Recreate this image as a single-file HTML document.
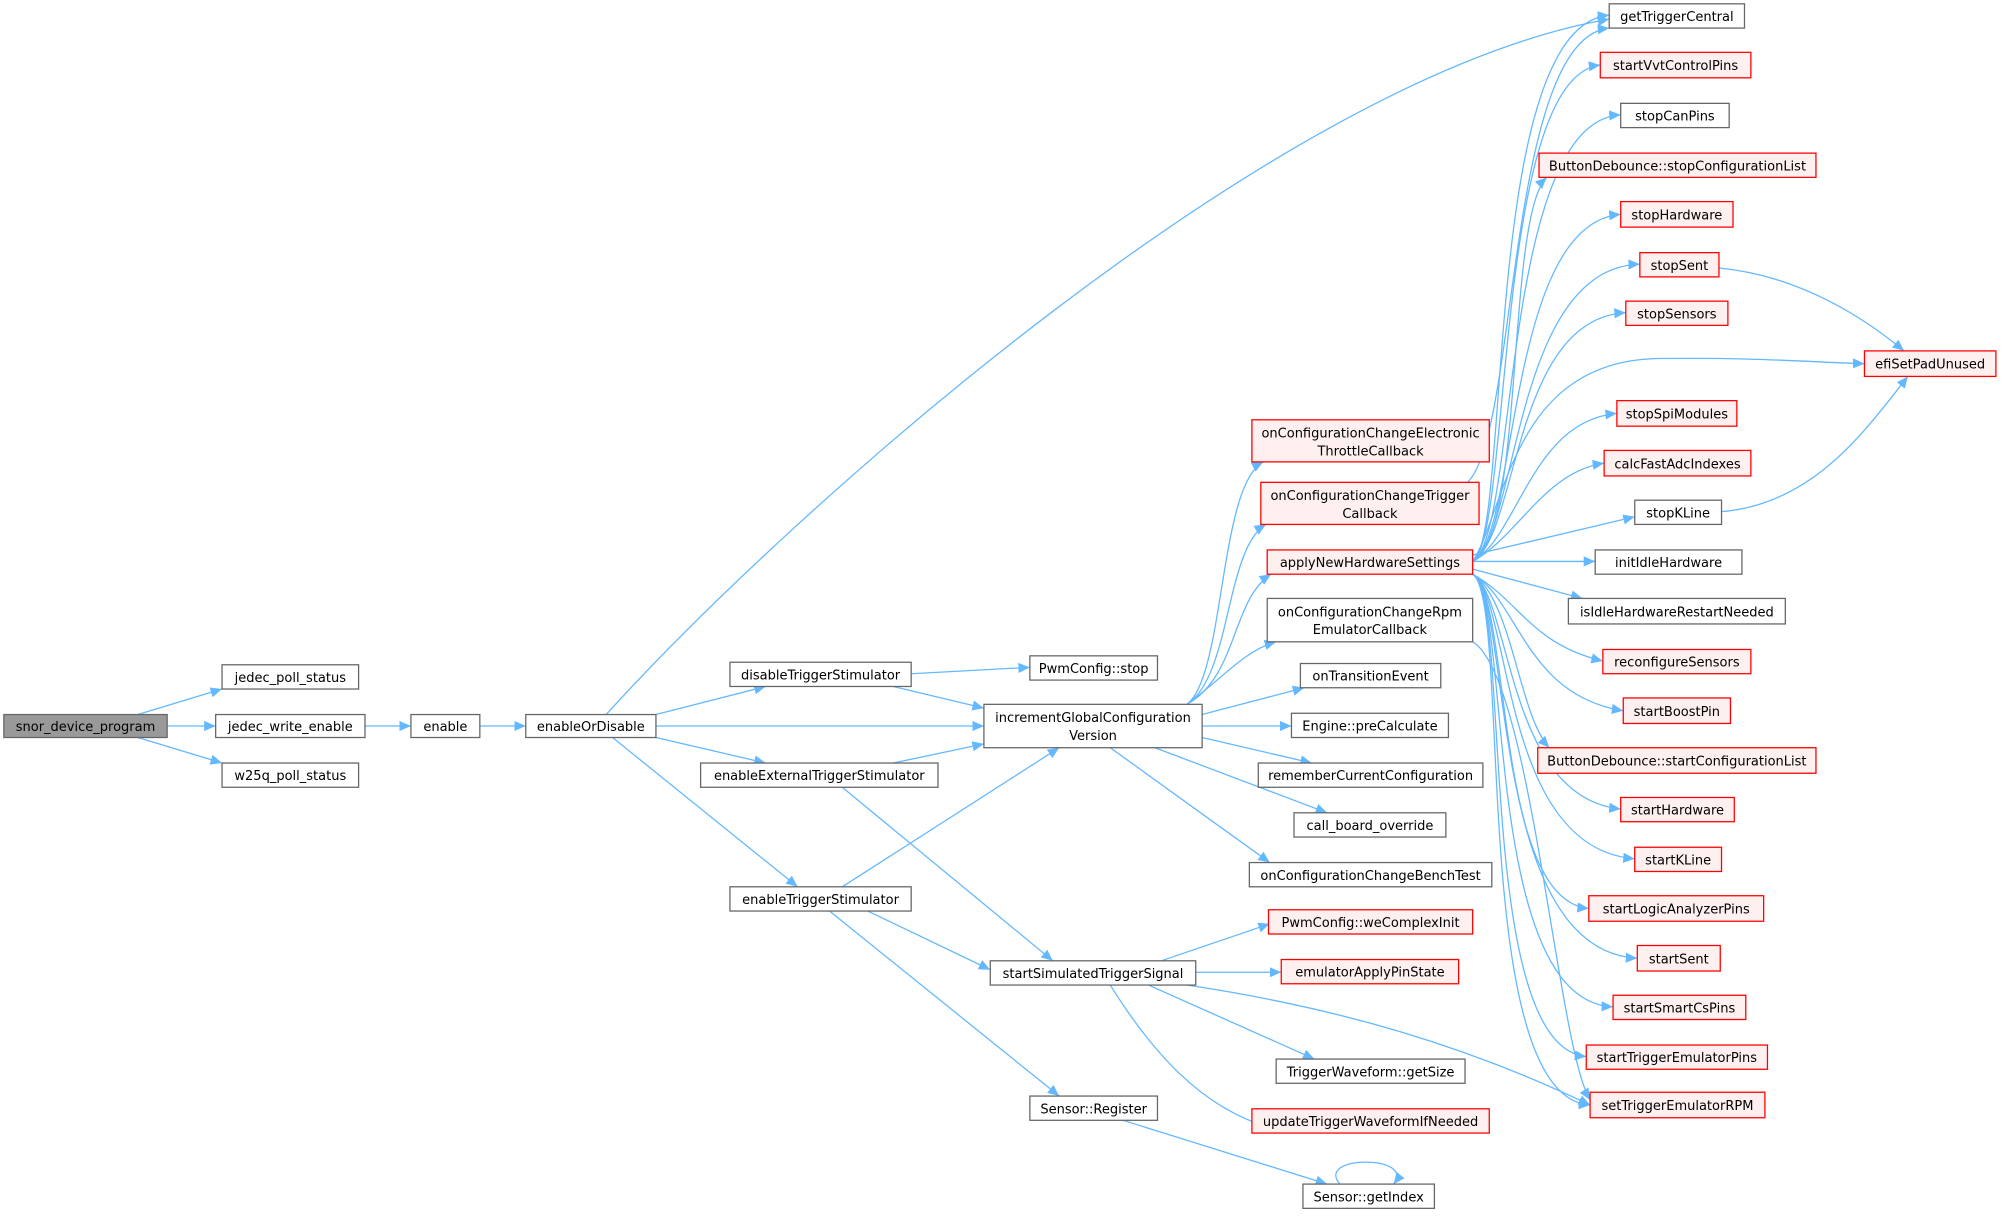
<!DOCTYPE html>
<html><head><meta charset="utf-8"><style>
html,body{margin:0;padding:0;background:#fff;}
svg{display:block;}
text{font-family:"DejaVu Sans","Liberation Sans",sans-serif;font-size:10.2px;fill:#000;text-anchor:middle;}
.n rect{fill:#fff;stroke:#666;stroke-width:1;}
.r rect{fill:#fff0f0;stroke:#f00;stroke-width:1;}
.e{fill:none;stroke:#63b8ff;stroke-width:1;marker-end:url(#a);}
</style></head><body>
<svg width="2001" height="1216" viewBox="0 0 1568 953" preserveAspectRatio="none" xmlns="http://www.w3.org/2000/svg">
<defs><marker id="a" markerUnits="userSpaceOnUse" markerWidth="10" markerHeight="8" refX="9" refY="4" orient="auto"><path d="M0,0L9,4L0,8z" fill="#63b8ff"/></marker></defs>

<path class="e" d="M108,560L174,540"/>
<path class="e" d="M131,569L169,569"/>
<path class="e" d="M108,578L174,598"/>
<path class="e" d="M286,569L322,569"/>
<path class="e" d="M376,569L412,569"/>
<path class="e" d="M475,560C620,400 1000,60 1261,15"/>
<path class="e" d="M514,560L600,538"/>
<path class="e" d="M514,569L771,569"/>
<path class="e" d="M514,578L600,598"/>
<path class="e" d="M480,578L625,695"/>
<path class="e" d="M714,528L807,523"/>
<path class="e" d="M700,538L771,555"/>
<path class="e" d="M700,598L771,583"/>
<path class="e" d="M660,617L825,753"/>
<path class="e" d="M660,695L830,586"/>
<path class="e" d="M680,714L776,760"/>
<path class="e" d="M650,714L830,859"/>
<path class="e" d="M930,552C960,530 955,380 990,362"/>
<path class="e" d="M930,552C965,530 960,430 992,411"/>
<path class="e" d="M930,552C970,530 965,470 996,450"/>
<path class="e" d="M930,552C960,530 975,510 1000,503"/>
<path class="e" d="M942,560L1022,539"/>
<path class="e" d="M942,569L1012,569"/>
<path class="e" d="M942,578L1028,598"/>
<path class="e" d="M905,586L1040,637"/>
<path class="e" d="M870,586L995,676"/>
<path class="e" d="M1150,378C1190,340 1180,30 1261,22"/>
<path class="e" d="M1154,503C1200,530 1220,820 1246,862"/>
<path class="e" d="M910,753L995,724"/>
<path class="e" d="M937,762L1004,762"/>
<path class="e" d="M900,772L1030,830"/>
<path class="e" d="M870,772C900,820 940,870 1000,885"/>
<path class="e" d="M930,772C1050,790 1150,820 1246,866"/>
<path class="e" d="M880,878L1040,928"/>
<path class="e" d="M1050,928C1030,905 1110,905 1092,928"/>
<path class="e" d="M1347,210C1400,215 1450,240 1492,275"/>
<path class="e" d="M1349,401C1420,395 1460,340 1495,295"/>

<g>
<path class="e" d="M1154,440C1185,420 1160,20 1261,12"/>
<path class="e" d="M1154,440C1185,420 1170,60 1254,51"/>
<path class="e" d="M1154,440C1190,420 1175,95 1270,90"/>
<path class="e" d="M1154,440C1195,420 1180,170 1212,139"/>
<path class="e" d="M1154,440C1190,420 1180,175 1270,168"/>
<path class="e" d="M1154,440C1190,420 1185,210 1285,207"/>
<path class="e" d="M1154,440C1190,420 1185,250 1274,245"/>
<path class="e" d="M1154,440C1180,400 1185,282 1300,281 C1380,280 1420,284 1461,285"/>
<path class="e" d="M1154,440C1190,420 1200,330 1267,324"/>
<path class="e" d="M1154,440C1190,420 1210,370 1257,363"/>
<path class="e" d="M1154,435L1281,405"/>
<path class="e" d="M1154,440L1250,440"/>
<path class="e" d="M1154,446L1240,469"/>
<path class="e" d="M1154,450C1190,470 1200,505 1256,518"/>
<path class="e" d="M1154,450C1190,470 1195,545 1272,557"/>
<path class="e" d="M1154,450C1185,470 1190,560 1214,586"/>
<path class="e" d="M1154,450C1185,470 1180,625 1270,634"/>
<path class="e" d="M1154,450C1185,470 1175,665 1281,673"/>
<path class="e" d="M1154,450C1185,470 1170,705 1245,712"/>
<path class="e" d="M1154,450C1185,470 1165,745 1283,751"/>
<path class="e" d="M1154,450C1185,470 1160,785 1264,789"/>
<path class="e" d="M1154,450C1185,470 1155,820 1243,828"/>
<path class="e" d="M1154,450C1185,470 1150,860 1246,866"/>
</g>

<g><rect x="3" y="560" width="128" height="18" fill="#999" stroke="#666"/><text x="67" y="573">snor_device_program</text></g>
<g class="n"><rect x="174" y="521" width="107" height="19"/><text x="227.5" y="534.5">jedec_poll_status</text></g>
<g class="n"><rect x="169" y="560" width="117" height="18"/><text x="227.5" y="573">jedec_write_enable</text></g>
<g class="n"><rect x="174" y="598" width="107" height="19"/><text x="227.5" y="611.5">w25q_poll_status</text></g>
<g class="n"><rect x="322" y="560" width="54" height="18"/><text x="349" y="573">enable</text></g>
<g class="n"><rect x="412" y="560" width="102" height="18"/><text x="463" y="573">enableOrDisable</text></g>
<g class="n"><rect x="572" y="519" width="142" height="19"/><text x="643" y="532.5">disableTriggerStimulator</text></g>
<g class="n"><rect x="549" y="598" width="186" height="19"/><text x="642" y="611.5">enableExternalTriggerStimulator</text></g>
<g class="n"><rect x="572" y="695" width="142" height="19"/><text x="643" y="708.5">enableTriggerStimulator</text></g>
<g class="n"><rect x="807" y="514" width="100" height="19"/><text x="857" y="527.5">PwmConfig::stop</text></g>
<g class="n"><rect x="771" y="552" width="171" height="34"/><text x="856.5" y="566">incrementGlobalConfiguration</text><text x="856.5" y="580">Version</text></g>
<g class="n"><rect x="776" y="753" width="161" height="19"/><text x="856.5" y="766.5">startSimulatedTriggerSignal</text></g>
<g class="n"><rect x="807" y="859" width="100" height="19"/><text x="857" y="872.5">Sensor::Register</text></g>
<g class="n"><rect x="1021" y="928" width="103" height="19"/><text x="1072.5" y="941.5">Sensor::getIndex</text></g>

<g class="r"><rect x="981" y="329" width="186" height="33"/><text x="1074" y="343">onConfigurationChangeElectronic</text><text x="1074" y="357">ThrottleCallback</text></g>
<g class="r"><rect x="988" y="378" width="171" height="33"/><text x="1073.5" y="392">onConfigurationChangeTrigger</text><text x="1073.5" y="406">Callback</text></g>
<g class="r"><rect x="993" y="431" width="161" height="19"/><text x="1073.5" y="444.5">applyNewHardwareSettings</text></g>
<g class="n"><rect x="993" y="469" width="161" height="34"/><text x="1073.5" y="483">onConfigurationChangeRpm</text><text x="1073.5" y="497">EmulatorCallback</text></g>
<g class="n"><rect x="1019" y="520" width="110" height="19"/><text x="1074" y="533.5">onTransitionEvent</text></g>
<g class="n"><rect x="1012" y="559" width="123" height="19"/><text x="1073.5" y="572.5">Engine::preCalculate</text></g>
<g class="n"><rect x="986" y="598" width="176" height="19"/><text x="1074" y="611.5">rememberCurrentConfiguration</text></g>
<g class="n"><rect x="1014" y="637" width="119" height="19"/><text x="1073.5" y="650.5">call_board_override</text></g>
<g class="n"><rect x="979" y="676" width="190" height="19"/><text x="1074" y="689.5">onConfigurationChangeBenchTest</text></g>
<g class="r"><rect x="994" y="713" width="160" height="19"/><text x="1074" y="726.5">PwmConfig::weComplexInit</text></g>
<g class="r"><rect x="1004" y="752" width="139" height="19"/><text x="1073.5" y="765.5">emulatorApplyPinState</text></g>
<g class="n"><rect x="1000" y="830" width="148" height="19"/><text x="1074" y="843.5">TriggerWaveform::getSize</text></g>
<g class="r"><rect x="981" y="869" width="186" height="19"/><text x="1074" y="882.5">updateTriggerWaveformIfNeeded</text></g>

<g class="n"><rect x="1261" y="3" width="106" height="19"/><text x="1314" y="16.5">getTriggerCentral</text></g>
<g class="r"><rect x="1254" y="41" width="118" height="20"/><text x="1313" y="55">startVvtControlPins</text></g>
<g class="n"><rect x="1270" y="81" width="85" height="19"/><text x="1312.5" y="94.5">stopCanPins</text></g>
<g class="r"><rect x="1206" y="120" width="217" height="19"/><text x="1314.5" y="133.5">ButtonDebounce::stopConfigurationList</text></g>
<g class="r"><rect x="1270" y="158" width="88" height="20"/><text x="1314" y="172">stopHardware</text></g>
<g class="r"><rect x="1285" y="198" width="62" height="19"/><text x="1316" y="211.5">stopSent</text></g>
<g class="r"><rect x="1274" y="236" width="80" height="19"/><text x="1314" y="249.5">stopSensors</text></g>
<g class="r"><rect x="1461" y="275" width="103" height="20"/><text x="1512.5" y="289">efiSetPadUnused</text></g>
<g class="r"><rect x="1267" y="314" width="94" height="20"/><text x="1314" y="328">stopSpiModules</text></g>
<g class="r"><rect x="1257" y="353" width="115" height="20"/><text x="1314.5" y="367">calcFastAdcIndexes</text></g>
<g class="n"><rect x="1281" y="392" width="68" height="19"/><text x="1315" y="405.5">stopKLine</text></g>
<g class="n"><rect x="1250" y="431" width="115" height="19"/><text x="1307.5" y="444.5">initIdleHardware</text></g>
<g class="n"><rect x="1229" y="469" width="170" height="20"/><text x="1314" y="483">isIdleHardwareRestartNeeded</text></g>
<g class="r"><rect x="1256" y="509" width="116" height="19"/><text x="1314" y="522.5">reconfigureSensors</text></g>
<g class="r"><rect x="1272" y="547" width="84" height="20"/><text x="1314" y="561">startBoostPin</text></g>
<g class="r"><rect x="1205" y="586" width="218" height="20"/><text x="1314" y="600">ButtonDebounce::startConfigurationList</text></g>
<g class="r"><rect x="1270" y="625" width="89" height="19"/><text x="1314.5" y="638.5">startHardware</text></g>
<g class="r"><rect x="1281" y="664" width="68" height="19"/><text x="1315" y="677.5">startKLine</text></g>
<g class="r"><rect x="1245" y="702" width="137" height="20"/><text x="1313.5" y="716">startLogicAnalyzerPins</text></g>
<g class="r"><rect x="1283" y="741" width="65" height="20"/><text x="1315.5" y="755">startSent</text></g>
<g class="r"><rect x="1264" y="780" width="104" height="19"/><text x="1316" y="793.5">startSmartCsPins</text></g>
<g class="r"><rect x="1243" y="819" width="142" height="19"/><text x="1314" y="832.5">startTriggerEmulatorPins</text></g>
<g class="r"><rect x="1246" y="856" width="137" height="20"/><text x="1314.5" y="870">setTriggerEmulatorRPM</text></g>
</svg>
</body></html>
